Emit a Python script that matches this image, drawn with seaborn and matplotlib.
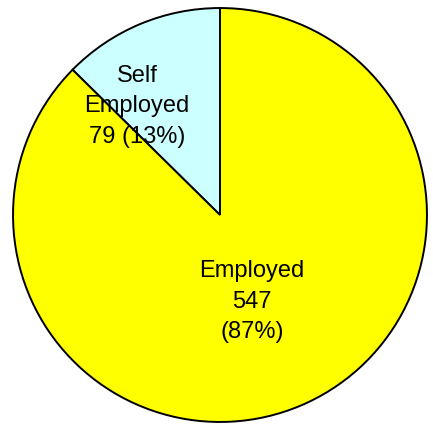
#!/usr/bin/env python3

import matplotlib
matplotlib.use('Agg')
import matplotlib.pyplot as plt
import seaborn as sns

categories = ['Self\nEmployed', 'Employed']
counts = [79, 547]
colors = ['#CCFFFF', '#FFFF00']

sns.set_style('white')
plt.rcParams['font.family'] = ['Liberation Sans', 'DejaVu Sans']

fig = plt.figure(figsize=(4.33, 4.24), dpi=100)
ax = fig.add_axes([12 / 433, 1 / 424, 416 / 433, 416 / 424])

total = sum(counts)
labels = [f'{c}\n{n} ({round(100 * n / total)}%)' if i == 0 else f'{c}\n{n}\n({round(100 * n / total)}%)'
          for i, (c, n) in enumerate(zip(categories, counts))]

wedges, texts = ax.pie(counts, colors=colors, startangle=90, counterclock=True,
                       labels=labels, labeldistance=0.6,
                       wedgeprops=dict(edgecolor='black', linewidth=1.4))

# move labels to where they sit in the original
label_pos = [(-0.40, 0.525), (0.155, -0.42)]
for t, pos in zip(texts, label_pos):
    t.set_position(pos)
    t.set_ha('center')
    t.set_va('center')
    t.set_fontsize(17)
    t.set_color('black')
    t.set_linespacing(1.5)

ax.set_xlim(-1.005, 1.005)
ax.set_ylim(-1.005, 1.005)
ax.set_aspect('auto')
ax.axis('off')

fig.savefig('out.png', dpi=100, facecolor='white')
